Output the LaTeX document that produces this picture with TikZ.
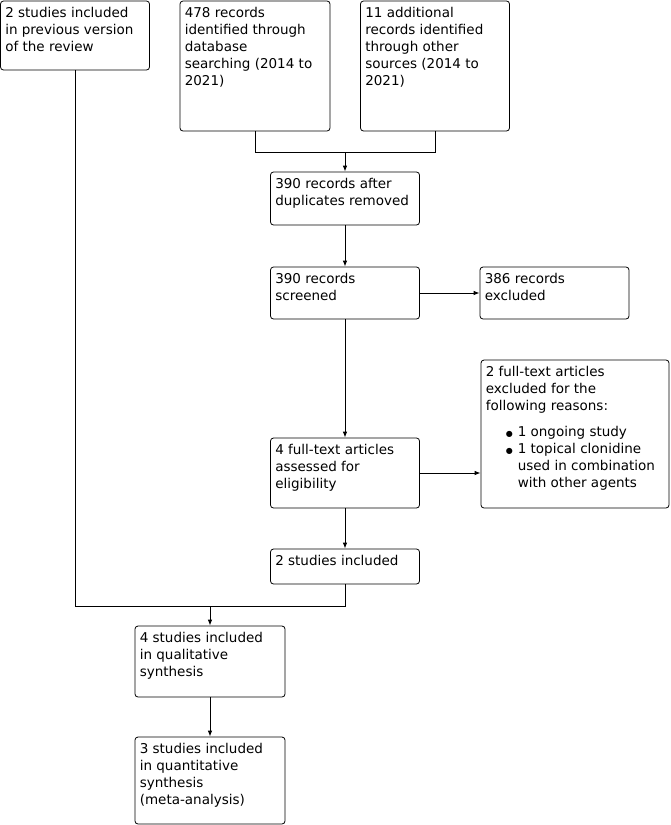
\documentclass[tikz,border=0pt]{standalone}
\usepackage{fontspec}
\setmainfont{DejaVu Sans}
\usetikzlibrary{arrows.meta}
\newcommand{\blt}{\makebox[12pt][l]{\raisebox{0.5pt}{\fontsize{8}{8}\selectfont ●}}}

\begin{document}
\begin{tikzpicture}[
  x=1pt, y=-1pt,
  box/.style={draw, rounded corners=3pt, line width=0.8pt, minimum width=149pt, inner sep=0pt},
  txt/.style={anchor=north west, align=left, inner xsep=5pt, inner ysep=6.5pt,
              font=\fontsize{13.5}{17}\selectfont},
  arr/.style={-{Latex[length=6pt,width=4.5pt]}},
  line/.style={line width=0.8pt}
]
\useasboundingbox (0,0) rectangle (671,825);

\node[box, minimum height=69pt, label={[txt]north west:{2 studies included\\in previous version\\of the review}}] (prev) at (75,35.5) {};
\node[box, minimum width=150pt, minimum height=130pt, label={[txt]north west:{478 records\\identified through\\database\\searching (2014 to\\2021)}}] (db) at (255,66) {};
\node[box, minimum height=130pt, label={[txt]north west:{11 additional\\records identified\\through other\\sources (2014 to\\2021)}}] (other) at (435,66) {};

\node[box, minimum height=53pt, label={[txt]north west:{390 records after\\duplicates removed}}] (dup) at (345,198.5) {};
\node[box, minimum height=52pt, label={[txt]north west:{390 records\\screened}}] (screened) at (345,293) {};
\node[box, minimum height=52pt, label={[txt]north west:{386 records\\excluded}}] (excluded) at (554.5,293) {};

\node[box, minimum height=70pt, label={[txt]north west:{4 full-text articles\\assessed for\\eligibility}}] (fulltext) at (345,473) {};
\node[box, minimum width=188pt, minimum height=148pt, label={[txt]north west:{2 full-text articles\\excluded for the\\following reasons:\\[9pt]
  \hspace*{20pt}\blt 1 ongoing study\\
  \hspace*{20pt}\blt 1 topical clonidine\\
  \hspace*{32pt}used in combination\\
  \hspace*{32pt}with other agents}}] (reasons) at (575,434) {};

\node[box, minimum height=35pt, label={[txt]north west:{2 studies included}}] (incl) at (345,566.5) {};
\node[box, minimum width=150pt, minimum height=71pt, label={[txt]north west:{4 studies included\\in qualitative\\synthesis}}] (qual) at (210,661.5) {};
\node[box, minimum width=150pt, minimum height=87pt, label={[txt]north west:{3 studies included\\in quantitative\\synthesis\\(meta-analysis)}}] (quant) at (210,780.5) {};

\coordinate (j1) at (345,152);
\coordinate (j2) at (210,606);

\draw[line] (db.south) |- (j1);
\draw[line] (other.south) |- (j1);
\draw[line, arr] (j1) -- (dup);
\draw[line, arr] (dup) -- (screened);
\draw[line, arr] (screened) -- (excluded);
\draw[line, arr] (screened) -- (fulltext);
\draw[line, arr] (fulltext.east) -- (fulltext.east -| reasons.west);
\draw[line, arr] (fulltext) -- (incl);
\draw[line] (prev.south) |- (j2);
\draw[line] (incl.south) |- (j2);
\draw[line, arr] (j2) -- (qual);
\draw[line, arr] (qual) -- (quant);
\end{tikzpicture}
\end{document}
